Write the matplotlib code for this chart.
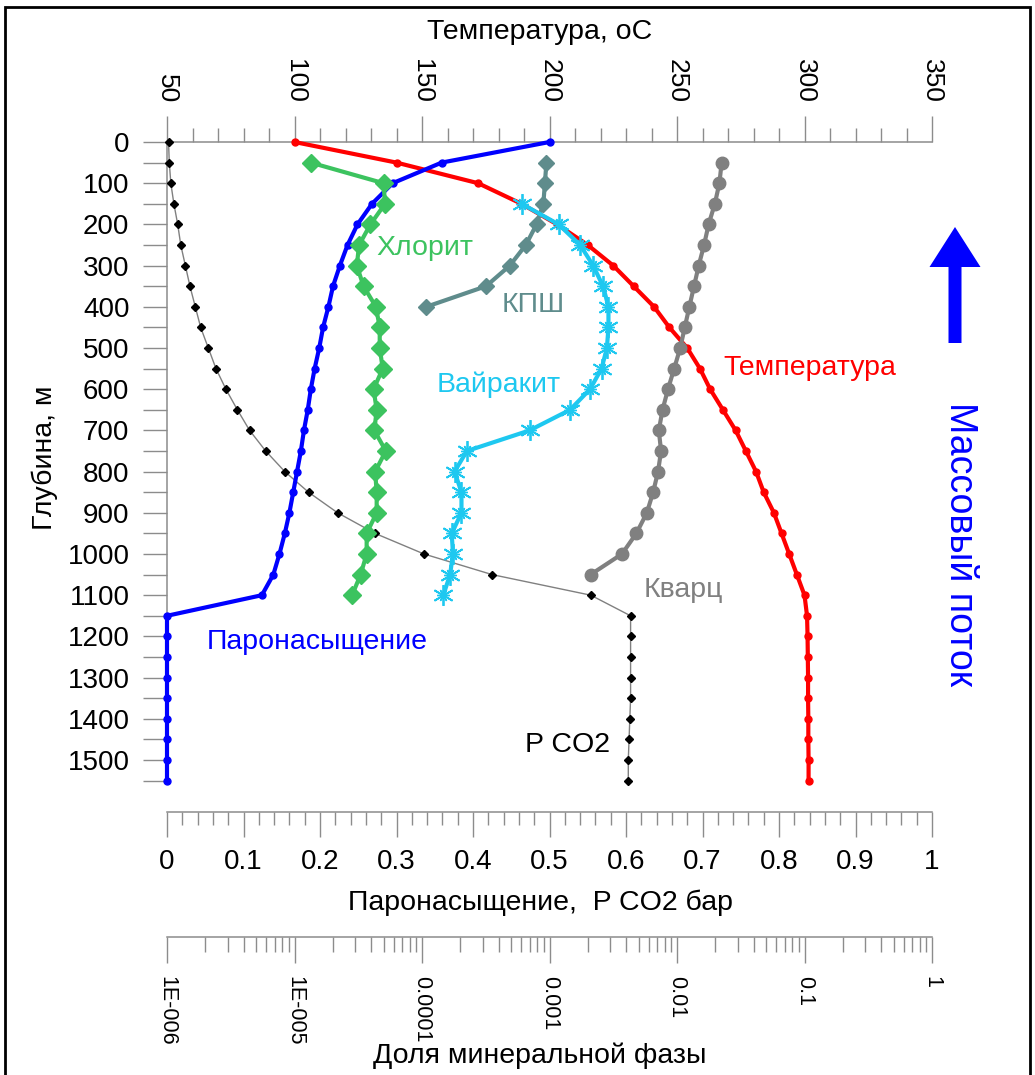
import matplotlib
matplotlib.use("Agg")
import matplotlib.pyplot as plt
from matplotlib.patches import Rectangle, Polygon
from matplotlib.ticker import MultipleLocator, FixedLocator, LogLocator, NullFormatter

plt.rcParams['font.family'] = ['Liberation Sans', 'DejaVu Sans']

# depth, m (same depth grid for most series)
depth = [0, 50, 100, 150, 200, 250, 300, 350, 400, 450, 500, 550, 600, 650,
         700, 750, 800, 850, 900, 950, 1000, 1050, 1100, 1150, 1200, 1250,
         1300, 1350, 1400, 1450, 1500, 1550]

# temperature, C (top axis)
temperature = [100, 140, 172, 189, 203, 215, 225, 233, 241, 247, 254, 259,
               263, 268, 273, 277, 281, 284, 288, 291, 294, 297, 300, 301,
               301.2, 301.3, 301.4, 301.4, 301.5, 301.5, 301.6, 301.6]

# steam saturation (linear bottom axis)
steam = [0.50, 0.359, 0.295, 0.268, 0.249, 0.236, 0.226, 0.217, 0.211, 0.204,
         0.199, 0.193, 0.188, 0.184, 0.179, 0.175, 0.170, 0.165, 0.160, 0.154,
         0.147, 0.139, 0.124, 0, 0, 0, 0, 0, 0, 0, 0, 0]

# P CO2, bar (linear bottom axis)
pco2 = [0.002, 0.003, 0.005, 0.009, 0.014, 0.018, 0.024, 0.030, 0.037, 0.044,
        0.054, 0.064, 0.077, 0.092, 0.108, 0.129, 0.154, 0.185, 0.223, 0.272,
        0.336, 0.425, 0.554, 0.606, 0.606, 0.606, 0.606, 0.606, 0.605, 0.604,
        0.603, 0.603]

# mineral fractions (log bottom axis)
chl_depth = [50, 100, 150, 200, 250, 300, 350, 400, 450, 500, 550, 600, 650,
             700, 750, 800, 850, 900, 950, 1000, 1050, 1100]
chlorite = [1.34e-5, 4.99e-5, 5.13e-5, 3.94e-5, 3.21e-5, 3.08e-5, 3.48e-5,
            4.35e-5, 4.66e-5, 4.66e-5, 4.92e-5, 4.17e-5, 4.41e-5, 4.23e-5,
            5.20e-5, 4.29e-5, 4.41e-5, 4.41e-5, 3.68e-5, 3.68e-5, 3.30e-5,
            2.83e-5]

kfs_depth = [50, 100, 150, 200, 250, 300, 350, 400]
kfs = [9.46e-4, 9.20e-4, 8.95e-4, 7.91e-4, 6.52e-4, 4.88e-4, 3.18e-4, 1.08e-4]

wai_depth = [150, 200, 250, 300, 350, 400, 450, 500, 550, 600, 650, 700, 750,
             800, 850, 900, 950, 1000, 1050, 1100]
wairakite = [6.05e-4, 1.18e-3, 1.74e-3, 2.20e-3, 2.63e-3, 2.90e-3, 2.90e-3,
             2.82e-3, 2.56e-3, 2.08e-3, 1.45e-3, 6.98e-4, 2.25e-4, 1.80e-4,
             2.04e-4, 2.04e-4, 1.71e-4, 1.75e-4, 1.66e-4, 1.47e-4]

qtz_depth = [50, 100, 150, 200, 250, 300, 350, 400, 450, 500, 550, 600, 650,
             700, 750, 800, 850, 900, 950, 1000, 1050]
quartz = [0.0224, 0.0215, 0.0198, 0.0177, 0.0163, 0.0148, 0.0136, 0.0125,
          0.0115, 0.0106, 0.0095, 0.0085, 0.0077, 0.0072, 0.0075, 0.0071,
          0.0065, 0.0058, 0.0048, 0.0037, 0.0021]

log_ticks = [1e-6, 1e-5, 1e-4, 1e-3, 1e-2, 1e-1, 1]
log_labels = ['1E-006', '1E-005', '0.0001', '0.001', '0.01', '0.1', '1']
lin_labels = ['0', '0.1', '0.2', '0.3', '0.4', '0.5', '0.6', '0.7', '0.8', '0.9', '1']

W, H = 1035, 1075
fig = plt.figure(figsize=(W / 100, H / 100), dpi=100)

def fx(px):
    return px / W

def fy(py):
    return 1 - py / H

axc = '#8c8c8c'
x0, x1 = 167, 932
ytop, ybot = 142, 780.6

ax = fig.add_axes([fx(x0), fy(ybot), fx(x1 - x0), (ybot - ytop) / H])
ax.set_xlim(50, 350)
ax.set_ylim(1550, 0)

axl = ax.twiny()
axl.set_xlim(0, 1)
axl.axis('off')
axg = ax.twiny()
axg.set_xscale('log')
axg.set_xlim(1e-6, 1)
axg.axis('off')

# axis styling (after twiny, which moves ticks to the bottom)
for s in ['right', 'bottom']:
    ax.spines[s].set_visible(False)
for s in ['left', 'top']:
    ax.spines[s].set_color(axc)
    ax.spines[s].set_linewidth(1.1)
ax.xaxis.set_ticks_position('top')
ax.xaxis.set_label_position('top')
ax.xaxis.set_major_locator(MultipleLocator(50))
ax.xaxis.set_minor_locator(MultipleLocator(10))
ax.tick_params(axis='x', which='major', length=19, width=1, color=axc,
               labelsize=19, pad=9, labelrotation=270,
               top=True, bottom=False, labeltop=True, labelbottom=False)
ax.tick_params(axis='x', which='minor', length=10, width=1, color=axc,
               top=True, bottom=False)
ax.set_yticks(range(0, 1501, 100))
ax.yaxis.set_minor_locator(MultipleLocator(50))
ax.tick_params(axis='y', which='both', length=17, width=1, color=axc,
               labelsize=20, pad=10)

# series
axl.plot(pco2, depth, color='#808080', lw=1, marker='D', ms=4.5,
         mfc='black', mec='black', zorder=2, clip_on=False)
axg.plot(quartz, qtz_depth, color='#808080', lw=3, marker='o', ms=9, zorder=3)
axg.plot(kfs, kfs_depth, color='#5f8c8c', lw=3, marker='D', ms=8, zorder=3)
axg.plot(chlorite, chl_depth, color='#3cc35f', lw=3, marker='D', ms=9, zorder=3)
axg.plot(wairakite, wai_depth, color='#1ec8f0', lw=3, zorder=3)
axg.plot(wairakite, wai_depth, ls='none', marker=(6, 2, 0), ms=15, mew=1.3,
         color='#1ec8f0', zorder=3)
axg.plot(wairakite, wai_depth, ls='none', marker=(6, 2, 30), ms=9, mew=1.0,
         color='#1ec8f0', zorder=3)
ax.plot(temperature, depth, color='#ff0000', lw=3, marker='o', ms=5, zorder=4,
        clip_on=False)
axl.plot(steam, depth, color='#0000ff', lw=3, marker='o', ms=5, zorder=4,
         clip_on=False)

# curve labels
fs = 20.5
ax.text(151, 257, 'Хлорит', color='#3cc35f', fontsize=fs, ha='center', va='center')
ax.text(193.5, 396, 'КПШ', color='#5f8c8c', fontsize=fs, ha='center', va='center')
ax.text(180, 590, 'Вайракит', color='#1ec8f0', fontsize=fs, ha='center', va='center')
ax.text(302, 549, 'Температура', color='#ff0000', fontsize=fs, ha='center', va='center')
ax.text(109, 1214, 'Паронасыщение', color='#0000ff', fontsize=fs, ha='center', va='center')
ax.text(252.4, 1087, 'Кварц', color='#808080', fontsize=fs, ha='center', va='center')
ax.text(207, 1464, 'P CO2', color='black', fontsize=fs, ha='center', va='center')

# bottom linear scale
ab1 = fig.add_axes([fx(x0), fy(811.7), fx(x1 - x0), 1e-4])
ab1.set_xlim(0, 1)
ab1.set_yticks([])
ab1.patch.set_visible(False)
for s in ['top', 'left', 'right']:
    ab1.spines[s].set_visible(False)
ab1.spines['bottom'].set_color(axc)
ab1.spines['bottom'].set_linewidth(1.1)
ab1.set_xticks([i / 10 for i in range(11)])
ab1.set_xticklabels(lin_labels)
ab1.xaxis.set_minor_locator(MultipleLocator(0.02))
ab1.tick_params(axis='x', which='major', length=18, width=1, color=axc,
                labelsize=20, pad=9)
ab1.tick_params(axis='x', which='minor', length=9, width=1, color=axc)

# bottom log scale
ab2 = fig.add_axes([fx(x0), fy(936.7), fx(x1 - x0), 1e-4])
ab2.set_xscale('log')
ab2.set_xlim(1e-6, 1)
ab2.set_yticks([])
ab2.patch.set_visible(False)
for s in ['top', 'left', 'right']:
    ab2.spines[s].set_visible(False)
ab2.spines['bottom'].set_color(axc)
ab2.spines['bottom'].set_linewidth(1.1)
ab2.xaxis.set_major_locator(FixedLocator(log_ticks))
ab2.set_xticklabels(log_labels)
ab2.xaxis.set_minor_locator(LogLocator(base=10, subs=range(2, 10), numticks=20))
ab2.xaxis.set_minor_formatter(NullFormatter())
ab2.tick_params(axis='x', which='major', length=19, width=1, color=axc,
                labelsize=15.5, pad=9, labelrotation=270)
ab2.tick_params(axis='x', which='minor', length=11, width=1, color=axc)

# axis titles
tfs = 20.5
fig.text(fx(540), fy(32), 'Температура, оС', fontsize=tfs, ha='center', va='center')
fig.text(fx(45), fy(458), 'Глубина, м', fontsize=tfs, rotation=90,
         ha='center', va='center')
fig.text(fx(540), fy(903), 'Паронасыщение,  P CO2 бар', fontsize=tfs,
         ha='center', va='center')
fig.text(fx(540), fy(1056), 'Доля минеральной фазы', fontsize=tfs,
         ha='center', va='center')

# mass flow arrow and caption
arrow = [(955, 227), (980.5, 267), (961.5, 267), (961.5, 343), (948.5, 343),
         (948.5, 267), (929.5, 267)]
fig.patches.append(Polygon([(fx(a), fy(b)) for a, b in arrow], closed=True,
                           facecolor='#0000ff', edgecolor='none',
                           transform=fig.transFigure, figure=fig))
fig.text(fx(960), fy(544), 'Массовый поток', color='#0000ff', fontsize=27,
         rotation=270, ha='center', va='center')

# outer frame
fig.patches.append(Rectangle((fx(5), fy(1085)), fx(1025), (1085 - 7) / H,
                             fill=False, edgecolor='black', lw=2,
                             transform=fig.transFigure, figure=fig))

fig.savefig('out.png', dpi=100)
